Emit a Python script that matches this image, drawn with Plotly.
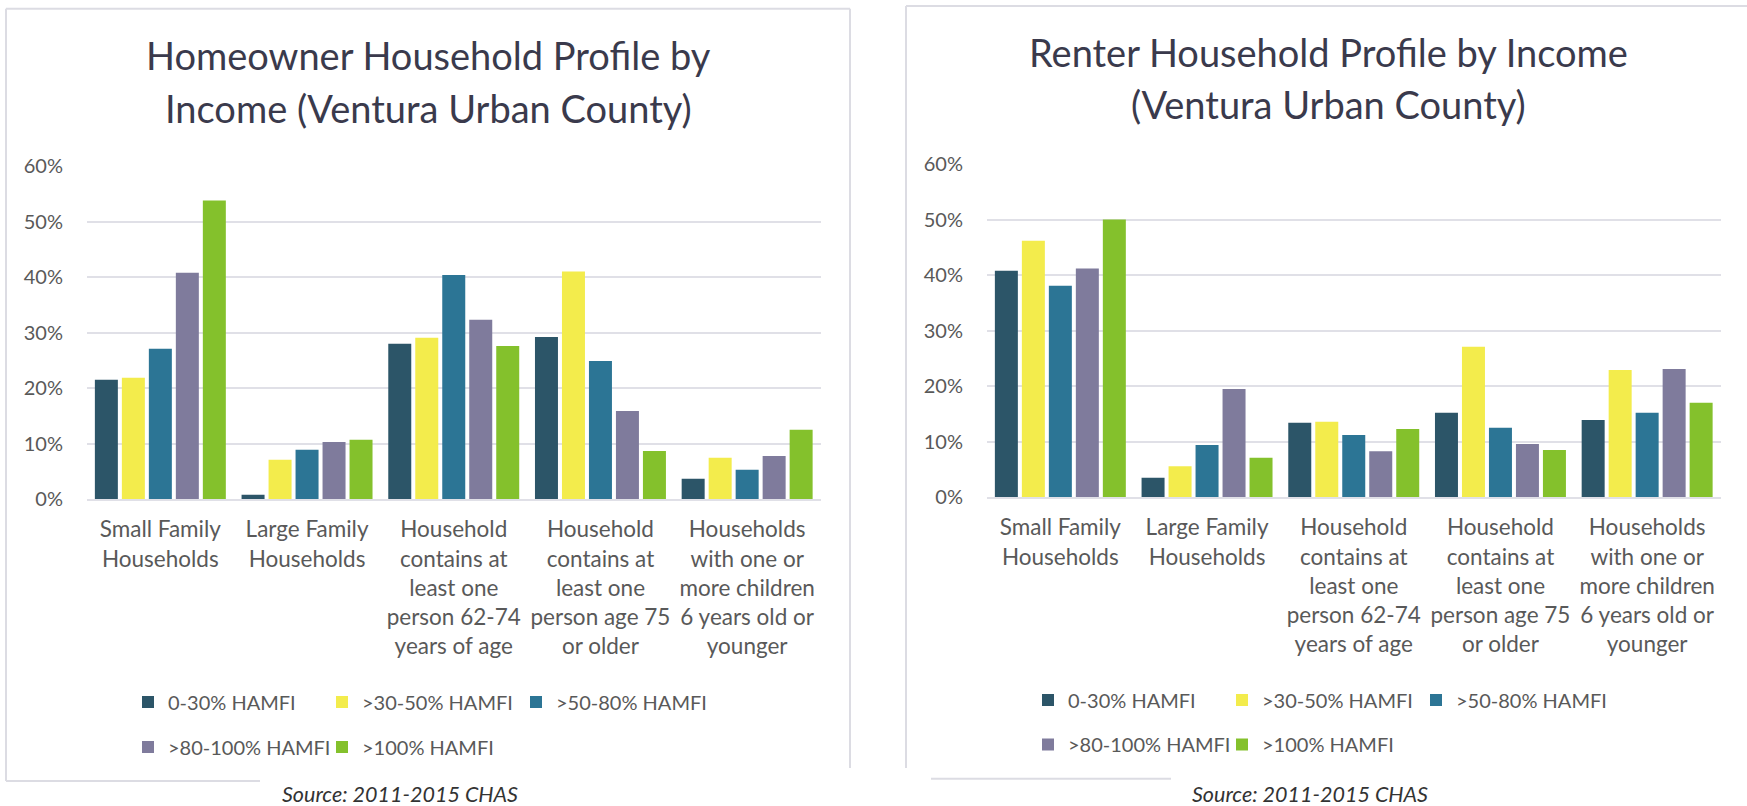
import plotly.graph_objects as go

W, H = 1747, 806

# ---------------- data ----------------
categories = [
    "Small Family Households",
    "Large Family Households",
    "Household contains at least one person 62-74 years of age",
    "Household contains at least one person age 75 or older",
    "Households with one or more children 6 years old or younger",
]
category_ticklabels = [
    "Small Family<br>Households",
    "Large Family<br>Households",
    "Household<br>contains at<br>least one<br>person 62-74<br>years of age",
    "Household<br>contains at<br>least one<br>person age 75<br>or older",
    "Households<br>with one or<br>more children<br>6 years old or<br>younger",
]
series_names = ["0-30% HAMFI", ">30-50% HAMFI", ">50-80% HAMFI", ">80-100% HAMFI", ">100% HAMFI"]

owner_0_30 = [21.5, 0.8, 28.0, 29.2, 3.7]
owner_30_50 = [21.9, 7.1, 29.1, 41.0, 7.5]
owner_50_80 = [27.1, 8.9, 40.4, 24.9, 5.3]
owner_80_100 = [40.8, 10.3, 32.3, 15.9, 7.8]
owner_100 = [53.8, 10.7, 27.6, 8.7, 12.5]

renter_0_30 = [40.8, 3.5, 13.4, 15.2, 13.9]
renter_30_50 = [46.2, 5.6, 13.6, 27.1, 22.9]
renter_50_80 = [38.1, 9.4, 11.2, 12.5, 15.2]
renter_80_100 = [41.2, 19.5, 8.3, 9.6, 23.1]
renter_100 = [50.0, 7.1, 12.3, 8.5, 17.0]

y_ticks = [0, 10, 20, 30, 40, 50, 60]
y_ticklabels = [f"{v}%" for v in y_ticks]

owner_series = [owner_0_30, owner_30_50, owner_50_80, owner_80_100, owner_100]
renter_series = [renter_0_30, renter_30_50, renter_50_80, renter_80_100, renter_100]

# ---------------- styles ----------------
colors = ["#2c5568", "#f3ec4c", "#2c7595", "#7f7b9c", "#84c12c"]
FONT = "Lato"
TXT = "#595959"
GRID = "#e0e0e7"
FRAME = "#dcdce3"


def X(px):
    return px / W


def Y(py):
    return 1 - py / H


fig = go.Figure()

# left chart legends: row 1 -> legend, row 2 -> legend2 ; right: legend3, legend4
left_leg = ["legend", "legend", "legend", "legend2", "legend2"]
right_leg = ["legend3", "legend3", "legend3", "legend4", "legend4"]

for i, name in enumerate(series_names):
    fig.add_trace(go.Bar(
        x=categories, y=owner_series[i], name=name,
        marker=dict(color=colors[i], line=dict(width=0)),
        xaxis="x", yaxis="y", legend=left_leg[i], hoverinfo="x+y+name",
    ))
for i, name in enumerate(series_names):
    fig.add_trace(go.Bar(
        x=categories, y=renter_series[i], name=name,
        marker=dict(color=colors[i], line=dict(width=0)),
        xaxis="x2", yaxis="y2", legend=right_leg[i], hoverinfo="x+y+name",
    ))

xaxis_common = dict(
    tickmode="array", tickvals=categories, ticktext=category_ticklabels,
    tickfont=dict(family=FONT, size=22.5, color=TXT),
    showgrid=False, showline=True, linecolor=GRID, linewidth=2,
    ticks="", ticklabelstandoff=9, fixedrange=True, tickangle=0,
    automargin=False,
)
yaxis_common = dict(
    range=[0, 60], tickmode="array", tickvals=y_ticks, ticktext=y_ticklabels,
    tickfont=dict(family=FONT, size=20, color=TXT),
    showgrid=True, gridcolor=GRID, gridwidth=2,
    zeroline=False, showline=False, ticks="", ticklabelstandoff=23,
    fixedrange=True, automargin=False,
)

legend_common = dict(
    orientation="h", xanchor="left", yanchor="middle",
    entrywidth=149, entrywidthmode="pixels",
    font=dict(family=FONT, size=20, color=TXT),
    bgcolor="rgba(0,0,0,0)", borderwidth=0, traceorder="normal",
    itemclick=False, itemdoubleclick=False,
)

fig.update_layout(
    width=W, height=H,
    margin=dict(l=0, r=0, t=0, b=0, autoexpand=False),
    paper_bgcolor="white", plot_bgcolor="white",
    barmode="group", bargap=0.08, bargroupgap=0.148,
    font=dict(family=FONT, color=TXT),
    xaxis=dict(domain=[X(87), X(820.5)], anchor="y", **xaxis_common),
    yaxis=dict(domain=[Y(499.3), Y(166)], anchor="x", **yaxis_common),
    xaxis2=dict(domain=[X(987), X(1720.5)], anchor="y2", **xaxis_common),
    yaxis2=dict(domain=[Y(497.3), Y(164)], anchor="x2", **yaxis_common),
    legend=dict(x=X(128), y=Y(702), **legend_common),
    legend2=dict(x=X(128), y=Y(747), **legend_common),
    legend3=dict(x=X(1028), y=Y(700), **legend_common),
    legend4=dict(x=X(1028), y=Y(744.5), **legend_common),
    showlegend=True,
)

TITLE_COLOR = "#3a3a4c"
title_font = dict(family=FONT, size=38, color=TITLE_COLOR)
annos = [
    ("Homeowner Household Profile by", 428, 55, title_font),
    ("Income (Ventura Urban County)", 428, 108, title_font),
    ("Renter Household Profile by Income", 1328, 52, title_font),
    ("(Ventura Urban County)", 1328, 104, title_font),
]
for text, ax, ay, f in annos:
    fig.add_annotation(text=text, x=X(ax), y=Y(ay), xref="paper", yref="paper",
                       xanchor="center", yanchor="middle", showarrow=False, font=f)

source_font = dict(family=FONT, size=21.5, color="#333333", style="italic")
for sx in (400, 1310):
    fig.add_annotation(text="Source: 2011-2015 CHAS", x=X(sx), y=Y(794),
                       xref="paper", yref="paper", xanchor="center", yanchor="middle",
                       showarrow=False, font=source_font)

# chart frames (partially hidden bottom borders as in the source screenshot)
frame_lines = [
    (6, 8.7, 850, 8.7), (6, 8.7, 6, 781), (850, 8.7, 850, 768), (6, 781, 260, 781),
    (906, 6, 1760, 6), (906, 6, 906, 768), (931, 778.7, 1171, 778.7),
]
for x0, y0, x1, y1 in frame_lines:
    fig.add_shape(type="line", xref="paper", yref="paper",
                  x0=X(x0), y0=Y(y0), x1=X(x1), y1=Y(y1),
                  line=dict(color=FRAME, width=2))

fig.write_html(
    "out.html",
    config={"displayModeBar": False},
    post_script="document.body.style.margin='0px';document.body.style.overflow='hidden';",
)
